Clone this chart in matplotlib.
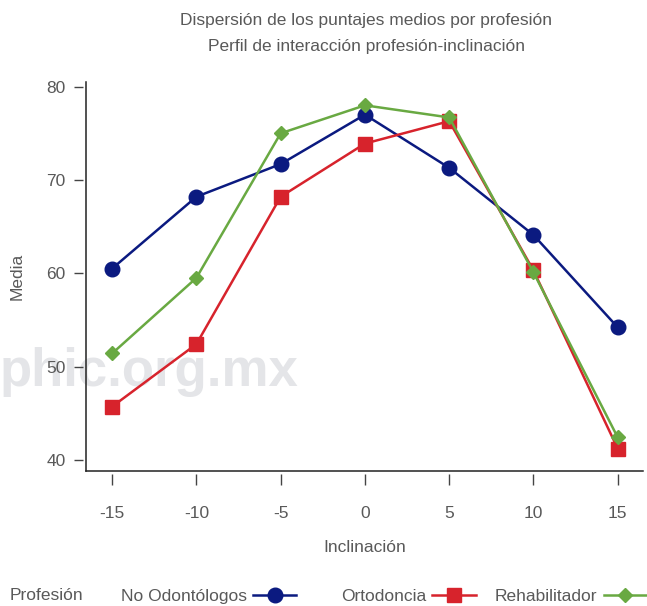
import matplotlib
matplotlib.use('Agg')
import matplotlib.pyplot as plt
from matplotlib.lines import Line2D

plt.rcParams['font.family'] = ['Liberation Sans', 'DejaVu Sans']

# datos
inclinacion = [-15, -10, -5, 0, 5, 10, 15]
no_odontologos = [60.5, 68.2, 71.7, 77.0, 71.3, 64.1, 54.2]
ortodoncia = [45.7, 52.4, 68.2, 73.9, 76.3, 60.3, 41.2]
rehabilitador = [51.4, 59.5, 75.0, 78.0, 76.7, 60.1, 42.4]
yticks = [40, 50, 60, 70, 80]

gris = '#595959'
azul = '#0b1a80'
rojo = '#d7232c'
verde = '#69a942'
fs = 12.5

fig = plt.figure(figsize=(6.47, 6.06), dpi=100)
ax = fig.add_axes([86/647, 1 - 471/606, (643 - 86)/647, (471 - 82)/606])

# marca de agua (detras de todo)
fig.text(0.0, 1 - 372/606, 'phic.org.mx', ha='left', va='center', color='#e4e5e8', fontsize=38,
         fontweight='bold', zorder=-5)

ax.plot(inclinacion, no_odontologos, color=azul, lw=1.8, marker='o', ms=10.5, label='No Odontólogos')
ax.plot(inclinacion, ortodoncia, color=rojo, lw=1.8, marker='s', ms=9.5, label='Ortodoncia')
ax.plot(inclinacion, rehabilitador, color=verde, lw=1.8, marker='D', ms=7.5, label='Rehabilitador')
ax.patch.set_visible(False)

ax.set_xlim(-16.55, 16.5)
ax.set_ylim(38.8, 80.5)
ax.set_xticks(inclinacion)
ax.set_xticklabels([str(v) for v in inclinacion])
ax.set_yticks(yticks)

# ejes tipo Stata: marcas separadas de la linea del eje
for s in ['top', 'right']:
    ax.spines[s].set_visible(False)
for s in ['left', 'bottom']:
    ax.spines[s].set_position(('outward', 2))
    ax.spines[s].set_color('none')
ax.plot([0, 1], [0, 0], transform=ax.transAxes, color='#222222', lw=1.1, clip_on=False)
ax.plot([0, 0], [0, 1], transform=ax.transAxes, color='#222222', lw=1.1, clip_on=False)
ax.tick_params(axis='x', direction='out', length=8, width=1, colors='#444444', labelcolor=gris,
               labelsize=fs, pad=15)
ax.tick_params(axis='y', direction='out', length=6.5, width=1, colors='#444444', labelcolor=gris,
               labelsize=fs, pad=6)

ax.set_xlabel('Inclinación', color=gris, fontsize=fs, labelpad=14)
ax.set_ylabel('Media', color=gris, fontsize=fs, labelpad=16)

fig.text(366/647, 1 - 20/606, 'Dispersión de los puntajes medios por profesión', ha='center', va='center',
         color=gris, fontsize=fs)
fig.text(366/647, 1 - 46/606, 'Perfil de interacción profesión-inclinación', ha='center', va='center',
         color=gris, fontsize=fs)

# leyenda
ley_y = 1 - 596/606
fig.text(10/647, ley_y, 'Profesión', ha='left', va='center', color=gris, fontsize=fs)
series = [
    ('No Odontólogos', azul, 'o', 10.5, 121),
    ('Ortodoncia', rojo, 's', 9.5, 341),
    ('Rehabilitador', verde, 'D', 7.5, 495),
]
for nombre, color, marca, tam, xpos in series:
    h = Line2D([], [], color=color, lw=1.8, marker=marca, ms=tam)
    leg = fig.legend([h], [nombre], loc='center left', bbox_to_anchor=(xpos/647, ley_y),
                     frameon=False, markerfirst=False, fontsize=fs, handlelength=2.5,
                     handletextpad=0.35, borderaxespad=0, borderpad=0)
    for t in leg.get_texts():
        t.set_color(gris)

fig.savefig('out.png', dpi=100)
